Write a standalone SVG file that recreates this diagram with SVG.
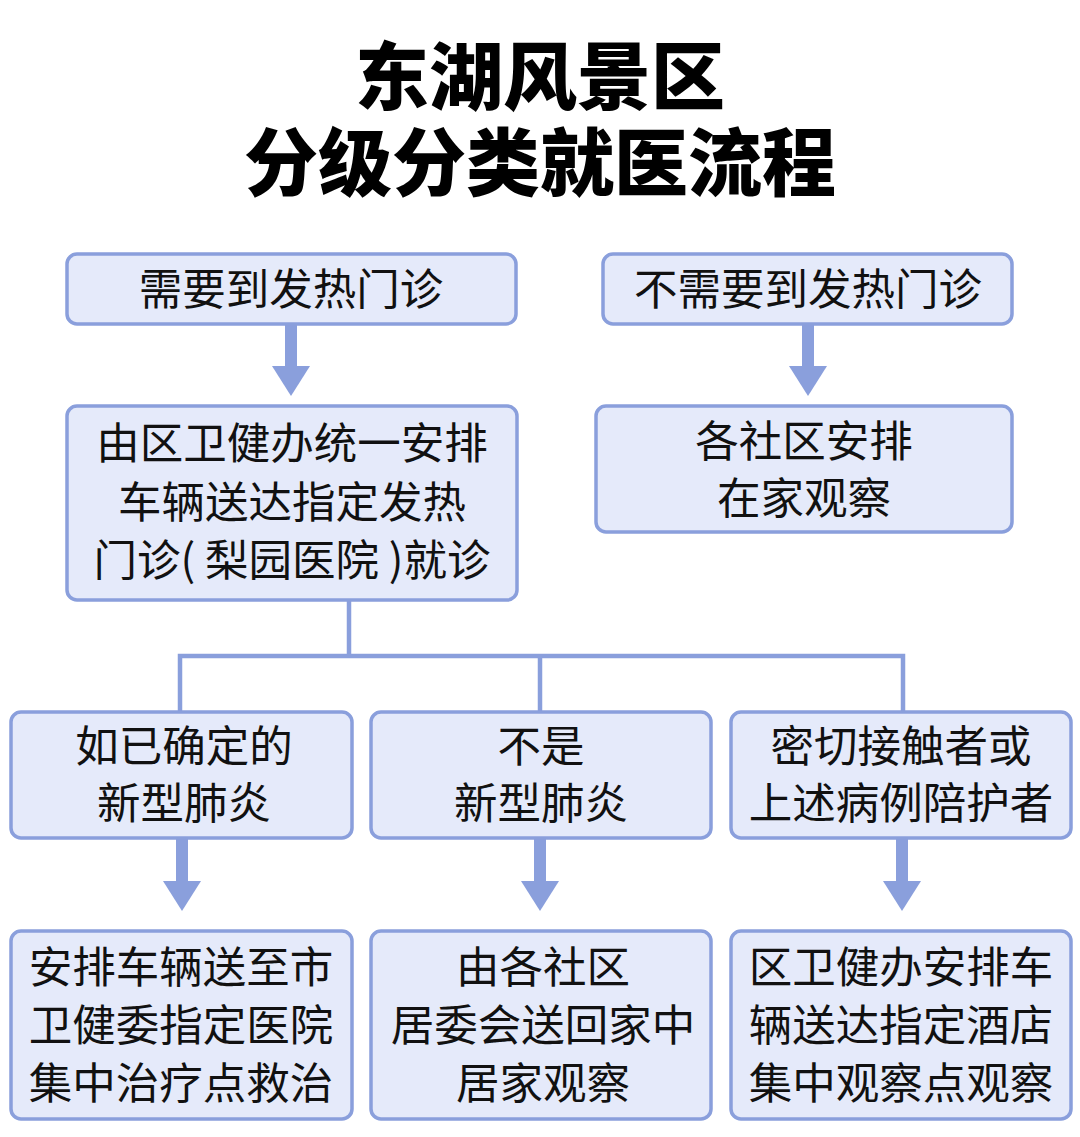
<svg xmlns="http://www.w3.org/2000/svg" width="1080" height="1137" viewBox="0 0 1080 1137">
<defs>
<style>
.box{fill:#e5eafa;stroke:#8a9fdc;stroke-width:3.5}
.t{font-family:"Noto Sans CJK SC","Noto Sans",sans-serif;font-size:43.5px;fill:#111;text-anchor:middle;dominant-baseline:central}
.title{font-family:"Noto Sans CJK SC","Noto Sans",sans-serif;font-size:74px;font-weight:900;fill:#000;text-anchor:middle}
.line{stroke:#8a9fdc;stroke-width:4.5;fill:none}
.stem{stroke:#8a9fdc;stroke-width:12;fill:none}
.head{fill:#8a9fdc}
</style>
</defs>
<rect width="1080" height="1137" fill="#ffffff"/>
<g id="title">
<text class="title" x="540" y="104">东湖风景区</text>
<text class="title" x="540" y="190">分级分类就医流程</text>
</g>
<g id="connectors">
<line class="stem" x1="291" y1="325" x2="291" y2="367"/>
<polygon class="head" points="272,366 310,366 291,396"/>
<line class="stem" x1="808" y1="325" x2="808" y2="367"/>
<polygon class="head" points="789,366 827,366 808,396"/>
<polyline class="line" points="349,600 349,656"/>
<polyline class="line" points="180,712 180,656 903,656 903,712"/>
<line class="line" x1="540" y1="656" x2="540" y2="712"/>
<line class="stem" x1="182" y1="839" x2="182" y2="882"/>
<polygon class="head" points="163,881 201,881 182,911"/>
<line class="stem" x1="540" y1="839" x2="540" y2="882"/>
<polygon class="head" points="521,881 559,881 540,911"/>
<line class="stem" x1="902" y1="839" x2="902" y2="882"/>
<polygon class="head" points="883,881 921,881 902,911"/>
</g>
<g id="n1"><rect class="box" x="67" y="254" width="449" height="70" rx="10"/><text class="t" x="291" y="286">需要到发热门诊</text></g>
<g id="n2"><rect class="box" x="603" y="254" width="409" height="70" rx="10"/><text class="t" x="808" y="286">不需要到发热门诊</text></g>
<g id="n3"><rect class="box" x="67" y="406" width="450" height="194" rx="10"/>
<text class="t" x="292" y="440">由区卫健办统一安排</text>
<text class="t" x="292" y="499">车辆送达指定发热</text>
<text class="t" x="292" y="557">门诊( 梨园医院 )就诊</text></g>
<g id="n4"><rect class="box" x="596" y="406" width="416" height="126" rx="10"/>
<text class="t" x="804" y="438">各社区安排</text>
<text class="t" x="804" y="495">在家观察</text></g>
<g id="n5"><rect class="box" x="11" y="712" width="341" height="126" rx="10"/>
<text class="t" x="184" y="743">如已确定的</text>
<text class="t" x="184" y="800">新型肺炎</text></g>
<g id="n6"><rect class="box" x="371" y="712" width="340" height="126" rx="10"/>
<text class="t" x="541" y="743">不是</text>
<text class="t" x="541" y="800">新型肺炎</text></g>
<g id="n7"><rect class="box" x="731" y="712" width="340" height="126" rx="10"/>
<text class="t" x="901" y="743">密切接触者或</text>
<text class="t" x="901" y="800">上述病例陪护者</text></g>
<g id="n8"><rect class="box" x="11" y="931" width="341" height="188" rx="10"/>
<text class="t" x="181" y="964">安排车辆送至市</text>
<text class="t" x="181" y="1022">卫健委指定医院</text>
<text class="t" x="181" y="1080">集中治疗点救治</text></g>
<g id="n9"><rect class="box" x="371" y="931" width="340" height="188" rx="10"/>
<text class="t" x="543" y="964">由各社区</text>
<text class="t" x="543" y="1022">居委会送回家中</text>
<text class="t" x="543" y="1080">居家观察</text></g>
<g id="n10"><rect class="box" x="731" y="931" width="340" height="188" rx="10"/>
<text class="t" x="901" y="964">区卫健办安排车</text>
<text class="t" x="901" y="1022">辆送达指定酒店</text>
<text class="t" x="901" y="1080">集中观察点观察</text></g>
</svg>
